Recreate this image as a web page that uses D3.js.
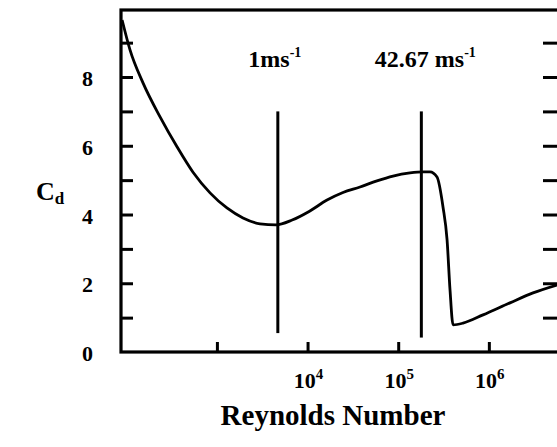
<!DOCTYPE html>
<html>
<head>
<meta charset="utf-8">
<script src="https://cdn.jsdelivr.net/npm/d3@7"></script>
<style>
  body { margin: 0; background: #fff; }
  svg { display: block; }
  text { font-family: "Liberation Serif", "Times New Roman", serif; font-weight: bold; fill: #000; }
</style>
</head>
<body>
<div id="chart"></div>
<script>
// Drag coefficient vs Reynolds number
var reynolds = [90, 110, 153, 236, 363, 545, 840, 1290, 1940, 2990, 4500, 6760, 10400, 16400, 24600,
                37900, 58300, 87700, 135000, 188000, 224000, 268000, 312000, 346000, 373000, 403000,
                519000, 863000, 1710000, 3070000, 5650000];
var cd = [9.66, 8.79, 7.83, 6.84, 5.97, 5.23, 4.63, 4.19, 3.90, 3.73, 3.70, 3.84, 4.09, 4.42, 4.64,
          4.80, 4.98, 5.12, 5.21, 5.24, 5.24, 5.09, 4.22, 3.26, 1.80, 0.79,
          0.84, 1.08, 1.43, 1.72, 1.95];

// speed markers
var markerLabels = ["1ms", "42.67 ms"];
var markerRe = [4700, 180000];
var markerTop = [7.0, 7.0];
var markerBottom = [0.55, 0.42];

// axis ticks
var xTicks = [1e3, 1e4, 1e5, 1e6];
var xTickLabels = ["", "4", "5", "6"];   // exponents, 10^3 label is missing in the figure
var yTicks = [1, 2, 3, 4, 5, 6, 7, 8, 9];
var yTickLabels = [0, 2, 4, 6, 8];

var width = 557, height = 447;

var svg = d3.select("#chart")
    .append("svg")
    .attr("width", width)
    .attr("height", height);

var x = d3.scaleLog()
    .domain([87.5, 5.94e6])
    .range([121, 559]);

var y = d3.scaleLinear()
    .domain([0, 9.95])
    .range([352, 10]);

// Frame
svg.append("rect")
    .attr("x", x.range()[0])
    .attr("y", y(9.95))
    .attr("width", x.range()[1] - x.range()[0])
    .attr("height", y(0) - y(9.95))
    .attr("fill", "none")
    .attr("stroke", "#000")
    .attr("stroke-width", 3.2);

// Tick marks pointing inwards
svg.append("g")
    .attr("transform", "translate(" + x.range()[0] + ",0)")
    .call(d3.axisRight(y).tickValues(yTicks).tickSize(12).tickFormat(""))
    .call(g => g.select(".domain").remove())
    .selectAll("line").attr("stroke-width", 3);

svg.append("g")
    .attr("transform", "translate(" + x.range()[1] + ",0)")
    .call(d3.axisLeft(y).tickValues(yTicks).tickSize(16).tickFormat(""))
    .call(g => g.select(".domain").remove())
    .selectAll("line").attr("stroke-width", 3);

svg.append("g")
    .attr("transform", "translate(0," + y(0) + ")")
    .call(d3.axisTop(x).tickValues(xTicks).tickSize(10).tickFormat(""))
    .call(g => g.select(".domain").remove())
    .selectAll("line").attr("stroke-width", 3);

// Y tick labels
svg.selectAll("yLabel")
    .data(yTickLabels)
    .enter()
    .append("text")
    .attr("x", 93)
    .attr("y", d => y(d) + 9)
    .attr("text-anchor", "end")
    .style("font-size", "22px")
    .text(d => d);

// X tick labels (10 with superscript exponent)
var xl = svg.selectAll("xLabel")
    .data(xTicks.filter((d, i) => xTickLabels[i] !== ""))
    .enter()
    .append("text")
    .attr("x", d => x(d) + 1)
    .attr("y", 388)
    .attr("text-anchor", "middle")
    .style("font-size", "22px");
xl.append("tspan").text("10");
xl.append("tspan")
    .attr("dy", -9)
    .style("font-size", "15px")
    .text(d => xTickLabels[xTicks.indexOf(d)]);

// Curve
var line = d3.line()
    .x((d, i) => x(reynolds[i]))
    .y((d, i) => y(cd[i]))
    .curve(d3.curveMonotoneX);

svg.append("path")
    .datum(cd)
    .attr("d", line)
    .attr("fill", "none")
    .attr("stroke", "#000")
    .attr("stroke-width", 2.8);

// Vertical speed markers
svg.selectAll("marker")
    .data(markerRe)
    .enter()
    .append("line")
    .attr("x1", d => x(d))
    .attr("x2", d => x(d))
    .attr("y1", (d, i) => y(markerTop[i]))
    .attr("y2", (d, i) => y(markerBottom[i]))
    .attr("stroke", "#000")
    .attr("stroke-width", 3);

var ml = svg.selectAll("markerLabel")
    .data(markerRe)
    .enter()
    .append("text")
    .attr("x", (d, i) => x(d) + (i === 0 ? -3 : 4))
    .attr("y", 67)
    .attr("text-anchor", "middle")
    .style("font-size", "24px");
ml.append("tspan").text((d, i) => markerLabels[i]);
ml.append("tspan")
    .attr("dy", -10)
    .style("font-size", "14px")
    .text("-1");

// Axis titles
var cdLabel = svg.append("text")
    .attr("x", 36)
    .attr("y", 200)
    .style("font-size", "26px");
cdLabel.append("tspan").text("C");
cdLabel.append("tspan")
    .attr("dy", 4)
    .style("font-size", "17px")
    .text("d");

svg.append("text")
    .attr("x", 333)
    .attr("y", 425)
    .attr("text-anchor", "middle")
    .style("font-size", "29px")
    .text("Reynolds Number");
</script>
</body>
</html>
